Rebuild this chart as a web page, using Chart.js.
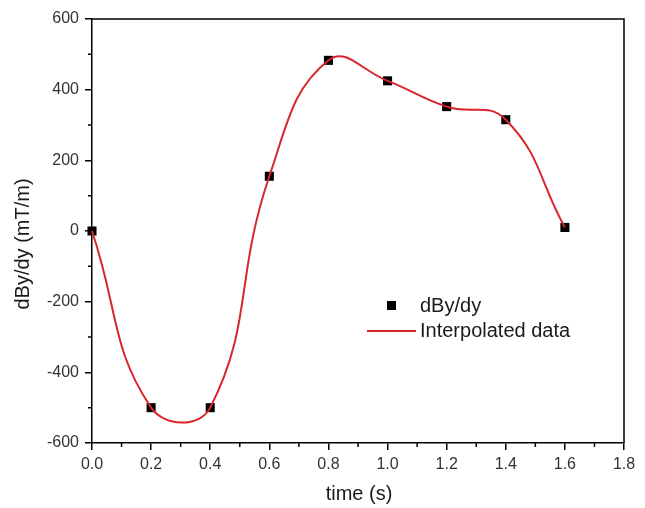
<!DOCTYPE html>
<html>
<head>
<meta charset="utf-8">
<script src="https://cdn.jsdelivr.net/npm/chart.js@4/dist/chart.umd.min.js"></script>
<style>
  html, body { margin: 0; padding: 0; background: #fff; }
  #wrap { width: 645px; height: 508px; position: relative; }
</style>
</head>
<body>
<div id="wrap"><canvas id="chart"></canvas></div>
<script>
const times = [0.0, 0.2, 0.4, 0.6, 0.8, 1.0, 1.2, 1.4, 1.6];
const gradient = [0, -500, -500, 155, 483, 425, 352, 315, 10];

const xTicks = [0.0, 0.2, 0.4, 0.6, 0.8, 1.0, 1.2, 1.4, 1.6, 1.8];
const yTicks = [-600, -400, -200, 0, 200, 400, 600];
const xMinor = [0.1, 0.3, 0.5, 0.7, 0.9, 1.1, 1.3, 1.5, 1.7];
const yMinor = [-500, -300, -100, 100, 300, 500];

const RED = '#d8262b';
const FONT = '"Liberation Sans", Arial, sans-serif';

const points = times.map((t, i) => ({ x: t, y: gradient[i] }));

// Minor ticks, frame, axis titles and legend drawn after the chart
const framePlugin = {
  id: 'frame',
  afterDraw(chart) {
    const { ctx, chartArea: a, scales } = chart;
    ctx.save();
    ctx.strokeStyle = '#000';
    ctx.lineWidth = 1.5;
    ctx.beginPath();
    ctx.moveTo(a.left, a.top);
    ctx.lineTo(a.right, a.top);
    ctx.lineTo(a.right, a.bottom);
    xMinor.forEach(v => {
      const px = scales.x.getPixelForValue(v);
      ctx.moveTo(px, a.bottom);
      ctx.lineTo(px, a.bottom + 4);
    });
    yMinor.forEach(v => {
      const py = scales.y.getPixelForValue(v);
      ctx.moveTo(a.left, py);
      ctx.lineTo(a.left - 4, py);
    });
    ctx.stroke();

    ctx.font = '20px ' + FONT;
    ctx.fillStyle = '#1a1a1a';
    ctx.textAlign = 'center';
    ctx.textBaseline = 'middle';
    ctx.fillText('time (s)', (a.left + a.right) / 2 + 1, 494);
    ctx.save();
    ctx.translate(23, 244);
    ctx.rotate(-Math.PI / 2);
    ctx.fillText('dBy/dy (mT/m)', 0, 0);
    ctx.restore();

    // legend
    ctx.textAlign = 'left';
    ctx.fillStyle = '#000';
    ctx.fillRect(387, 301, 9, 9);
    ctx.fillStyle = '#1a1a1a';
    ctx.fillText('dBy/dy', 420, 306);
    ctx.strokeStyle = RED;
    ctx.lineWidth = 2;
    ctx.beginPath();
    ctx.moveTo(367, 331);
    ctx.lineTo(416, 331);
    ctx.stroke();
    ctx.fillText('Interpolated data', 420, 331);
    ctx.restore();
  }
};

new Chart(document.getElementById('chart'), {
  type: 'scatter',
  data: {
    datasets: [
      {
        label: 'Interpolated data',
        data: points,
        showLine: true,
        borderColor: RED,
        borderWidth: 2,
        pointRadius: 0,
        tension: 0.45,
        clip: false,
        order: 1
      },
      {
        label: 'dBy/dy',
        data: points,
        showLine: false,
        pointStyle: 'rect',
        pointRadius: 6.4,
        backgroundColor: '#000',
        borderColor: '#000',
        borderWidth: 0,
        clip: false,
        order: 2
      }
    ]
  },
  options: {
    responsive: true,
    maintainAspectRatio: false,
    animation: false,
    elements: { line: { capBezierPoints: false } },
    layout: { padding: { left: 0, top: 19, right: 21, bottom: 0 } },
    plugins: { legend: { display: false }, tooltip: { enabled: false } },
    scales: {
      x: {
        type: 'linear',
        min: 0,
        max: 1.8,
        afterBuildTicks: s => { s.ticks = xTicks.map(v => ({ value: v })); },
        afterFit: s => { s.height = 65; },
        ticks: {
          color: '#333',
          font: { family: FONT, size: 16 },
          padding: 5,
          maxRotation: 0,
          callback: v => v.toFixed(1)
        },
        grid: { drawOnChartArea: false, color: '#000', lineWidth: 1.5, tickLength: 7 },
        border: { color: '#000', width: 1.5 }
      },
      y: {
        min: -600,
        max: 600,
        afterBuildTicks: s => { s.ticks = yTicks.map(v => ({ value: v })); },
        afterFit: s => { s.width = 92; },
        ticks: {
          color: '#333',
          font: { family: FONT, size: 16 },
          padding: 6
        },
        grid: { drawOnChartArea: false, color: '#000', lineWidth: 1.5, tickLength: 7 },
        border: { color: '#000', width: 1.5 }
      }
    }
  },
  plugins: [framePlugin]
});
</script>
</body>
</html>
